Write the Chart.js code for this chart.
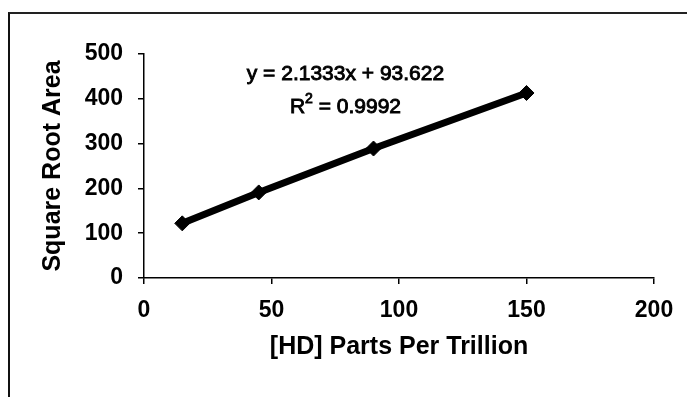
<!DOCTYPE html>
<html>
<head>
<meta charset="utf-8">
<script src="https://cdn.jsdelivr.net/npm/chart.js@4/dist/chart.umd.min.js"></script>
<style>
  html, body { margin: 0; padding: 0; background: #fff; }
  #wrap { position: relative; width: 687px; height: 397px; overflow: hidden; }
  #frame {
    position: absolute; left: 8px; top: 12px; width: 700px; height: 400px;
    border-left: 2px solid #111; border-top: 2px solid #222;
  }
  canvas { position: absolute; left: 0; top: 0; }
</style>
</head>
<body>
<div id="wrap">
  <div id="frame"></div>
  <canvas id="chart" width="687" height="397"></canvas>
</div>
<script>
// Calibration standards: concentration vs. square root of peak area
const concentrationPpt = [15, 45, 90, 150];
const sqrtArea = [122, 191, 289, 413];

// Linear fit reported on the chart
const fitSlope = 2.1333;
const fitIntercept = 93.622;
const fitR2 = 0.9992;

const xTicks = [0, 50, 100, 150, 200];
const yTicks = [0, 100, 200, 300, 400, 500];

const xTitle = '[HD] Parts Per Trillion';
const yTitle = 'Square Root Area';

const FONT = '"Liberation Sans", Arial, sans-serif';

// Writes the regression equation and R² above the line, anchored in data units
const equationLabel = {
  id: 'equationLabel',
  afterDatasetsDraw(chart) {
    const { ctx, scales: { x, y } } = chart;
    const cx = x.getPixelForValue(79);
    const eqY = y.getPixelForValue(455);
    const r2Y = y.getPixelForValue(382);
    ctx.save();
    ctx.fillStyle = '#000';
    ctx.strokeStyle = '#000';
    ctx.lineWidth = 0.9;
    ctx.textBaseline = 'middle';
    const big = '21px ' + FONT;
    const small = '14px ' + FONT;
    const put = (txt, px, py) => { ctx.fillText(txt, px, py); ctx.strokeText(txt, px, py); };

    ctx.textAlign = 'center';
    ctx.font = big;
    put('y = ' + fitSlope.toFixed(4) + 'x + ' + fitIntercept.toFixed(3), cx, eqY);

    // R² with a raised "2"
    const left = 'R';
    const right = ' = ' + fitR2.toFixed(4);
    ctx.font = big;
    const wL = ctx.measureText(left).width;
    const wR = ctx.measureText(right).width;
    ctx.font = small;
    const wS = ctx.measureText('2').width;
    const start = cx - (wL + wS + wR) / 2;
    ctx.textAlign = 'left';
    ctx.font = big;
    put(left, start, r2Y);
    ctx.font = small;
    put('2', start + wL, r2Y - 8);
    ctx.font = big;
    put(right, start + wL + wS, r2Y);
    ctx.restore();
  }
};

new Chart(document.getElementById('chart'), {
  type: 'scatter',
  data: {
    datasets: [{
      data: concentrationPpt.map((c, i) => ({ x: c, y: sqrtArea[i] })),
      showLine: true,
      borderColor: '#000',
      backgroundColor: '#000',
      borderWidth: 7,
      pointStyle: 'rectRot',
      pointRadius: 7.5,
      pointBorderWidth: 1,
      pointBackgroundColor: '#000',
      pointBorderColor: '#000'
    }]
  },
  options: {
    responsive: false,
    animation: false,
    devicePixelRatio: 1,
    layout: { padding: { left: 35, top: 54, right: 33, bottom: 0 } },
    plugins: { legend: { display: false }, tooltip: { enabled: false } },
    scales: {
      x: {
        type: 'linear',
        min: 0, max: 200,
        afterBuildTicks(s) { s.ticks = xTicks.map(v => ({ value: v })); },
        afterFit(s) { s.height = 119; },
        border: { display: true, color: '#000', width: 1.5 },
        grid: { drawOnChartArea: false, drawTicks: true, tickLength: 6, color: '#000', lineWidth: 1.5 },
        ticks: { color: '#000', padding: 13, font: { family: FONT, size: 23, weight: 'bold' } },
        title: {
          display: true, text: xTitle, color: '#000',
          font: { family: FONT, size: 25, weight: 'bold' },
          padding: { top: 0, bottom: 35 }
        }
      },
      y: {
        type: 'linear',
        min: 0, max: 500,
        afterBuildTicks(s) { s.ticks = yTicks.map(v => ({ value: v })); },
        afterFit(s) { s.width = 109; },
        border: { display: true, color: '#000', width: 1.5 },
        grid: { drawOnChartArea: false, drawTicks: true, tickLength: 6, color: '#000', lineWidth: 1.5 },
        ticks: { color: '#000', padding: 15, font: { family: FONT, size: 23, weight: 'bold' } },
        title: {
          display: true, text: yTitle, color: '#000',
          font: { family: FONT, size: 25, weight: 'bold' },
          padding: { top: 3, bottom: 0 }
        }
      }
    }
  },
  plugins: [equationLabel]
});
</script>
</body>
</html>
